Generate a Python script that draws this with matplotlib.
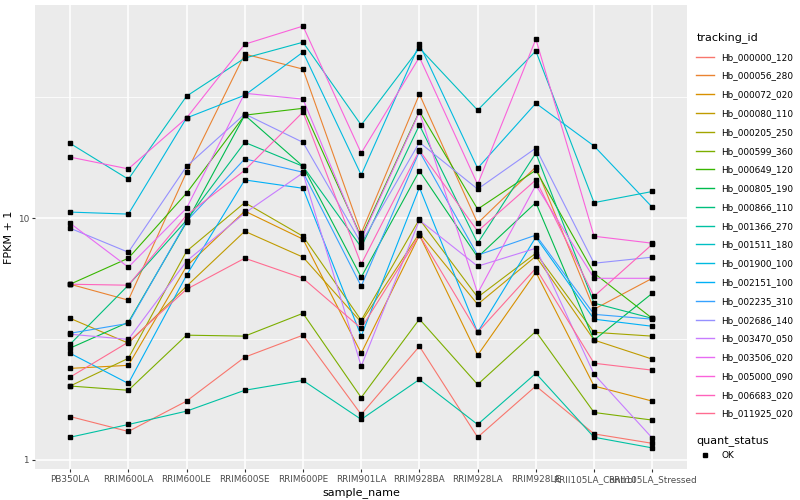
import numpy as np
import matplotlib.pyplot as plt
from matplotlib.lines import Line2D

# Muestras (eje x)
samples = ['PB350LA', 'RRIM600LA', 'RRIM600LE', 'RRIM600SE', 'RRIM600PE', 'RRIM901LA',
           'RRIM928BA', 'RRIM928LA', 'RRIM928LE', 'RRII105LA_Control', 'RRII105LA_Stressed']

tracking_ids = ['Hb_000000_120', 'Hb_000056_280', 'Hb_000072_020', 'Hb_000080_110',
                'Hb_000205_250', 'Hb_000599_360', 'Hb_000649_120', 'Hb_000805_190',
                'Hb_000866_110', 'Hb_001366_270', 'Hb_001511_180', 'Hb_001900_100',
                'Hb_002151_100', 'Hb_002235_310', 'Hb_002686_140', 'Hb_003470_050',
                'Hb_003506_020', 'Hb_005000_090', 'Hb_006683_020', 'Hb_011925_020']

# Paleta hue de ggplot para 20 niveles
colores = ['#F8766D', '#EA8331', '#D89000', '#C09B00', '#A3A500', '#7CAE00', '#39B600',
           '#00BB4E', '#00BF7D', '#00C1A3', '#00BFC4', '#00BAE0', '#00B0F6', '#35A2FF',
           '#9590FF', '#C77CFF', '#E76BF3', '#FA62DB', '#FF62BC', '#FF6C91']

# FPKM + 1 por gen
hb_000000_120 = [1.51, 1.31, 1.75, 2.66, 3.28, 1.54, 2.95, 1.24, 2.02, 1.28, 1.17]
hb_000056_280 = [5.33, 4.58, 15.5, 47.8, 41.4, 8.67, 32.6, 9.53, 16.3, 4.20, 5.64]
hb_000072_020 = [2.39, 2.46, 6.33, 10.7, 8.19, 2.76, 8.51, 2.71, 5.98, 2.02, 1.75]
hb_000080_110 = [3.85, 3.04, 5.23, 8.83, 6.90, 3.71, 8.67, 4.40, 6.96, 3.13, 2.61]
hb_000205_250 = [2.02, 2.63, 7.30, 11.6, 8.42, 3.78, 9.91, 4.71, 7.16, 3.37, 3.25]
hb_000599_360 = [2.02, 1.94, 3.28, 3.25, 4.04, 1.81, 3.82, 2.05, 3.40, 1.57, 1.46]
hb_000649_120 = [5.33, 6.83, 12.7, 26.7, 28.5, 8.35, 27.7, 10.9, 15.8, 5.92, 3.85]
hb_000805_190 = [2.90, 3.71, 9.62, 26.7, 16.4, 5.70, 15.7, 6.90, 11.6, 3.13, 4.89]
hb_000866_110 = [3.01, 5.28, 9.81, 20.6, 16.4, 7.59, 24.3, 7.88, 18.6, 4.45, 3.85]
hb_001366_270 = [1.24, 1.40, 1.59, 1.94, 2.13, 1.47, 2.15, 1.40, 2.28, 1.24, 1.12]
hb_001511_180 = [20.4, 14.5, 32.0, 46.0, 53.5, 24.3, 50.6, 28.0, 49.2, 11.6, 12.9]
hb_001900_100 = [10.6, 10.4, 26.0, 32.3, 48.7, 15.1, 52.5, 16.1, 29.9, 19.9, 11.1]
hb_002151_100 = [2.76, 2.07, 5.81, 14.4, 13.3, 3.25, 13.4, 3.37, 8.35, 3.82, 3.57]
hb_002235_310 = [3.34, 3.67, 9.72, 17.6, 15.5, 5.23, 18.9, 7.03, 8.51, 4.00, 3.82]
hb_002686_140 = [9.09, 7.23, 16.4, 27.0, 20.6, 7.88, 20.6, 13.2, 19.5, 6.51, 6.90]
hb_003470_050 = [3.31, 3.15, 6.64, 10.5, 15.4, 2.44, 9.81, 6.33, 7.51, 2.26, 1.23]
hb_003506_020 = [9.53, 6.27, 11.0, 32.9, 31.1, 8.19, 27.5, 4.89, 13.7, 5.64, 5.64]
hb_005000_090 = [17.9, 16.0, 26.0, 52.5, 62.4, 18.6, 46.4, 13.8, 55.1, 8.42, 7.88]
hb_006683_020 = [5.33, 5.28, 10.3, 15.8, 27.5, 6.45, 19.1, 8.83, 14.4, 4.75, 7.80]
hb_011925_020 = [2.20, 3.07, 5.08, 6.83, 5.64, 3.50, 8.51, 3.37, 6.21, 2.51, 2.35]

series = [hb_000000_120, hb_000056_280, hb_000072_020, hb_000080_110, hb_000205_250,
          hb_000599_360, hb_000649_120, hb_000805_190, hb_000866_110, hb_001366_270,
          hb_001511_180, hb_001900_100, hb_002151_100, hb_002235_310, hb_002686_140,
          hb_003470_050, hb_003506_020, hb_005000_090, hb_006683_020, hb_011925_020]

fig, ax = plt.subplots(figsize=(8, 5), dpi=100)
fig.subplots_adjust(left=0.044, right=0.859, bottom=0.062, top=0.99)

x = np.arange(len(samples))
for vals, col, name in zip(series, colores, tracking_ids):
    ax.plot(x, vals, color=col, lw=0.8, zorder=2)
    ax.plot(x, vals, ls='none', marker='s', ms=2.3, color='black', zorder=3)

# Escala log con expansion tipo ggplot (5%)
ax.set_yscale('log')
todos = np.log10(np.concatenate([np.array(s) for s in series]))
lo, hi = todos.min(), todos.max()
pad = 0.05 * (hi - lo)
ax.set_ylim(10 ** (lo - pad), 10 ** (hi + pad))
ax.set_xlim(-0.6, len(samples) - 0.4)

ax.set_yticks([1, 10])
ax.set_yticklabels(['1', '10'])
ax.set_yticks([10 ** 0.5, 10 ** 1.5], minor=True)
ax.set_xticks(x)
ax.set_xticklabels(samples)

# Estilo tipo theme_grey
ax.set_facecolor('#EBEBEB')
for s in ax.spines.values():
    s.set_visible(False)
ax.grid(which='major', color='white', lw=1.1)
ax.grid(which='minor', axis='y', color='white', lw=0.55)
ax.set_axisbelow(True)
ax.tick_params(which='major', length=2.5, width=0.8, color='#333333',
               labelsize=6.4, labelcolor='#4D4D4D', pad=2)
ax.tick_params(which='minor', length=0)
ax.set_xlabel('sample_name', fontsize=8, labelpad=2)
ax.set_ylabel('FPKM + 1', fontsize=8, labelpad=3)

# Leyendas
handles = [Line2D([], [], color=c, lw=1) for c in colores]
leg1 = fig.legend(handles, tracking_ids, loc='upper left', bbox_to_anchor=(0.866, 0.943),
                  frameon=False, title='tracking_id', fontsize=6.4, title_fontsize=8,
                  handlelength=2.0, labelspacing=1.1, alignment='left', borderaxespad=0)
h2 = [Line2D([], [], ls='none', marker='s', ms=2.3, color='black')]
leg2 = fig.legend(h2, ['OK'], loc='upper left', bbox_to_anchor=(0.866, 0.9),
                  frameon=False, title='quant_status', fontsize=6.4, title_fontsize=8,
                  handlelength=2.0, alignment='left', borderaxespad=0)
fig.canvas.draw()
bb = leg1.get_window_extent()
leg2.set_bbox_to_anchor((0.866, (bb.y0 - 10) / fig.bbox.height), transform=fig.transFigure)

plt.savefig('out.png', dpi=100)
